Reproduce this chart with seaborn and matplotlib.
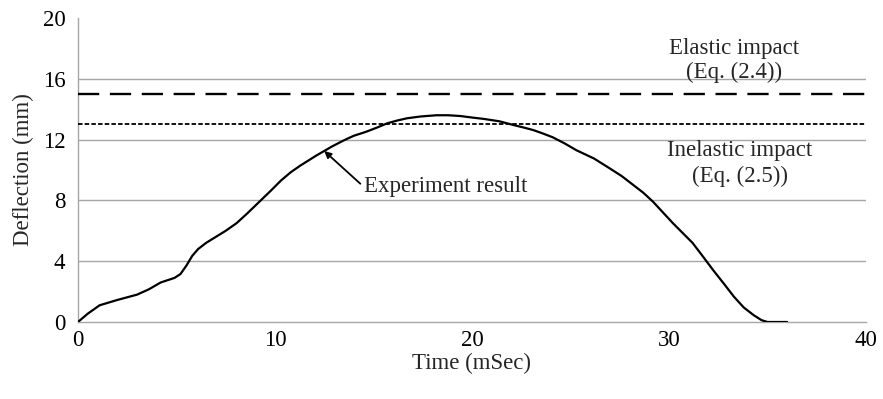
import matplotlib
matplotlib.use("Agg")
import matplotlib.pyplot as plt
import seaborn as sns
import pandas as pd

# Measured deflection history
time_ms = [0, 0.5, 1.1, 2.0, 3.0, 3.6, 4.2, 4.9, 5.2, 5.5, 5.8, 6.1, 6.5, 7.0, 7.5, 8.05,
           8.6, 9.2, 9.8, 10.3, 10.8, 11.3, 12.1, 12.9, 13.5, 14.0, 14.6, 15.2, 15.7,
           16.2, 16.7, 17.4, 18.2, 18.8, 19.4, 20.0, 20.6, 21.4, 22.1, 22.6, 23.1,
           23.6, 24.1, 24.7, 25.3, 26.2, 27.0, 27.6, 28.2, 28.7, 29.2, 29.7, 30.2,
           30.7, 31.2, 31.7, 32.25, 32.8, 33.3, 33.8, 34.3, 34.7, 35.0, 36.0]
deflection_mm = [0, 0.55, 1.1, 1.45, 1.8, 2.15, 2.6, 2.9, 3.15, 3.7, 4.35, 4.8, 5.2, 5.6,
                 6.0, 6.5, 7.15, 7.9, 8.65, 9.3, 9.85, 10.3, 10.95, 11.55, 11.95, 12.25,
                 12.5, 12.8, 13.07, 13.25, 13.4, 13.52, 13.6, 13.6, 13.55, 13.45, 13.36,
                 13.2, 12.96, 12.8, 12.63, 12.4, 12.15, 11.75, 11.3, 10.75, 10.1, 9.6,
                 9.0, 8.5, 7.9, 7.2, 6.5, 5.85, 5.2, 4.35, 3.4, 2.5, 1.66, 0.95, 0.45,
                 0.12, 0.0, 0.0]

elastic_mm = 15.0
inelastic_mm = 13.0

x_ticks = [0, 10, 20, 30, 40]
y_ticks = [0, 4, 8, 12, 16, 20]

sns.set_style("white")
plt.rcParams["font.family"] = ["Liberation Serif", "DejaVu Serif"]
FS = 16.5

fig = plt.figure(figsize=(8.83, 3.99), dpi=100)
ax = fig.add_axes([0.0883, 0.193, 0.8924, 0.762])

df = pd.DataFrame({"Time (mSec)": time_ms, "Deflection (mm)": deflection_mm})
sns.lineplot(data=df, x="Time (mSec)", y="Deflection (mm)", ax=ax,
             color="black", linewidth=1.6, zorder=3)

ax.axhline(elastic_mm, color="black", linewidth=1.7, linestyle=(0, (9, 4.5)), zorder=3)
ax.axhline(inelastic_mm, color="black", linewidth=1.3, linestyle=(0, (2.5, 1.2)), zorder=3)

for y in y_ticks[1:-1]:
    ax.axhline(y, color="#a6a6a6", linewidth=1.0, zorder=1)

ax.set_xlim(0, 40)
ax.set_ylim(0, 20)
ax.set_xticks(x_ticks)
ax.set_yticks(y_ticks)
ax.tick_params(axis="both", labelsize=FS, length=0, colors="black")
ax.tick_params(axis="y", pad=9)
ax.tick_params(axis="x", pad=6)
ax.set_xlabel("Time (mSec)", fontsize=FS, labelpad=1)
ax.set_ylabel("Deflection (mm)", fontsize=FS, labelpad=6)

for side in ["top", "right"]:
    ax.spines[side].set_visible(False)
for side in ["left", "bottom"]:
    ax.spines[side].set_color("#a6a6a6")
    ax.spines[side].set_linewidth(1.0)

ax.text(33.3, 18.0, "Elastic impact", ha="center", va="center", fontsize=FS)
ax.text(33.3, 16.4, "(Eq. (2.4))", ha="center", va="center", fontsize=FS)
ax.text(33.6, 11.3, "Inelastic impact", ha="center", va="center", fontsize=FS)
ax.text(33.6, 9.6, "(Eq. (2.5))", ha="center", va="center", fontsize=FS)

ax.annotate("Experiment result", xy=(12.5, 11.25), xytext=(14.5, 8.9),
            ha="left", va="center", fontsize=FS,
            arrowprops=dict(arrowstyle="-|>", color="black", lw=1.3,
                            mutation_scale=10, shrinkA=0, shrinkB=0,
                            relpos=(0.0, 0.5)))

fig.savefig("out.png", dpi=100)
